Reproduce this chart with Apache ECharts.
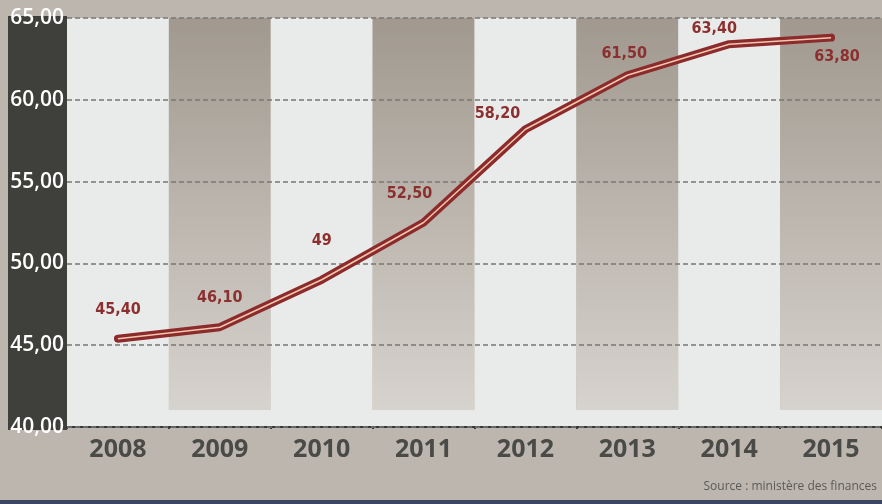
<!DOCTYPE html>
<html>
<head>
<meta charset="utf-8">
<script src="https://cdn.jsdelivr.net/npm/echarts@6/dist/echarts.min.js"></script>
<style>
html, body { margin: 0; padding: 0; background: #bcb6ae; }
#chart { width: 882px; height: 504px; }
</style>
</head>
<body>
<div id="chart"></div>
<script>
// données
const years = ['2008', '2009', '2010', '2011', '2012', '2013', '2014', '2015'];
const values = [45.4, 46.1, 49, 52.5, 58.2, 61.5, 63.4, 63.8];
const valueLabels = ['45,40', '46,10', '49', '52,50', '58,20', '61,50', '63,40', '63,80'];
const yTicks = [40, 45, 50, 55, 60, 65];
const sourceText = 'Source : ministère des finances';

let chart = echarts.init(document.getElementById('chart'));

// décalage des étiquettes (par point)
const labelOffsets = [[0, -15], [0, -16], [0, -25], [-14, -15], [-28, -2], [-3, -8], [-15, -2], [6, 33]];

let labelData = values.map(function (v, i) {
    return {
        value: v,
        label: {
            formatter: valueLabels[i],
            offset: labelOffsets[i]
        }
    };
});

let option = {
    backgroundColor: '#bcb6ae',
    animation: false,
    grid: {
        left: 67,
        right: 0,
        top: 18,
        bottom: 77
    },
    graphic: [
        // colonne sombre de l'axe Y
        {
            type: 'rect',
            left: 8,
            top: 16,
            shape: { width: 59, height: 414 },
            style: { fill: '#3f403b' },
            z: -1
        },
        // bande claire en bas
        {
            type: 'rect',
            left: 67,
            top: 410,
            shape: { width: 815, height: 16 },
            style: { fill: '#e9ebea' },
            z: 1
        },
        // bande bleue en bas
        {
            type: 'rect',
            left: 0,
            top: 500,
            shape: { width: 882, height: 4 },
            style: { fill: '#3c4662' },
            z: 1
        },
        {
            type: 'text',
            right: 5,
            top: 481,
            style: {
                text: sourceText,
                fill: '#5a5a58',
                font: '12px "Open Sans"'
            }
        }
    ],
    xAxis: {
        type: 'category',
        data: years,
        boundaryGap: true,
        z: 0,
        axisLine: {
            show: true,
            lineStyle: { color: '#3a3a38', width: 2 }
        },
        axisTick: {
            show: true,
            length: 2,
            lineStyle: { color: '#3a3a38', width: 2 }
        },
        axisLabel: {
            color: '#4a4a47',
            fontFamily: 'Open Sans',
            fontWeight: 'bold',
            fontSize: 25,
            margin: 10
        },
        splitArea: {
            show: true,
            areaStyle: {
                color: [
                    '#e9ebea',
                    {
                        type: 'linear',
                        x: 0, y: 0, x2: 0, y2: 1,
                        colorStops: [
                            { offset: 0, color: '#a1998f' },
                            { offset: 1, color: '#d9d5d0' }
                        ]
                    }
                ]
            }
        }
    },
    yAxis: {
        type: 'value',
        min: 40,
        max: 65,
        interval: 5,
        z: 2,
        axisLine: { show: false },
        axisTick: { show: false },
        axisLabel: {
            color: '#ffffff',
            fontFamily: 'Open Sans',
            fontWeight: 600,
            fontSize: 21,
            margin: 3,
            formatter: function (v) {
                return yTicks.indexOf(v) >= 0 ? v.toFixed(2).replace('.', ',') : '';
            }
        },
        splitLine: {
            show: true,
            lineStyle: { color: '#7a7774', type: [5, 3], width: 1.5 }
        }
    },
    series: [
        {
            type: 'line',
            data: labelData,
            symbol: 'circle',
            symbolSize: 1,
            showSymbol: true,
            itemStyle: { color: '#8c2b2b' },
            lineStyle: { color: '#8c2b2b', width: 8, cap: 'round', join: 'round' },
            label: {
                show: true,
                position: 'top',
                color: '#8c2f2f',
                fontFamily: 'DejaVu Sans Condensed',
                fontWeight: 'bold',
                fontSize: 16
            },
            z: 3
        },
        {
            type: 'line',
            data: values,
            symbol: 'none',
            lineStyle: { color: '#f3c6b0', width: 1.5, join: 'round' },
            z: 4
        }
    ]
};

chart.setOption(option);
</script>
</body>
</html>
